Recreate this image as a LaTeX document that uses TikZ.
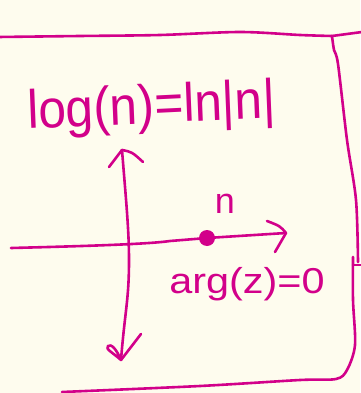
\documentclass[tikz,border=0pt]{standalone}
\usepackage{fontspec}
\setmainfont{Liberation Sans}
\definecolor{skpink}{RGB}{210,0,138}
\definecolor{skpaper}{RGB}{254,252,238}
\usetikzlibrary{calc}

\begin{document}
\begin{tikzpicture}[x=1pt,y=-1pt,
  ink/.style={draw=skpink,line width=2.6pt,line cap=round,line join=round},
  hand/.style={text=skpink,inner sep=0pt}
]
  \fill[skpaper] (0,0) rectangle (360,393);
  \useasboundingbox (0,0) rectangle (360,393);

  % Frame
  \draw[ink] plot[smooth] coordinates {(-2,37) (80,36) (160,35) (240,32) (300,35) (332,36)};
  \draw[ink] (332,36) -- (362,32);
  \draw[ink] plot[smooth] coordinates {(332,36) (334,50) (338,64) (347,140) (356,200) (358,262)};
  \draw[ink] (353,265) -- (362,265);
  \draw[ink] plot[smooth] coordinates {(353,257) (353,300) (355,345) (347,370) (336,379)
    (300,380) (200,386) (62,392)};

  % Axes
  \coordinate (hl) at (11,248);
  \coordinate (ht) at (286,233);
  \coordinate (vt) at (122,150);
  \coordinate (vb) at (121,360);
  \node[circle,fill=skpink,minimum size=16pt,inner sep=0pt] (dot) at (207,238) {};

  \draw[ink] (hl) .. controls (90,246) and (150,244) .. (170,241) -- (dot.center) -- (ht);
  \draw[ink] (ht) .. controls (280,226) .. (267,221);
  \draw[ink] (ht) -- (275,252);

  \draw[ink] (vt) .. controls (126,200) and (129,230) .. (129,260)
    .. controls (129,300) and (125,310) .. (vb);
  \draw[ink] (vt) -- (109,167);
  \draw[ink] (vt) .. controls (132,152) .. (143,162);
  \draw[ink] (vb) -- (141,334);
  \draw[ink] (vb) .. controls (112,352) and (105,349) .. (108,346)
    .. controls (111,343) and (117,350) .. (vb);

  % Labels
  \node[hand,font=\fontsize{54}{54}\selectfont,xscale=0.92,rotate=2.5,anchor=base west]
    (logeq) at (28,129) {log(n)=ln|n|};
  \node[hand,font=\fontsize{36}{36}\selectfont,anchor=base] (nlbl) at (225,213) {n};
  \node[hand,font=\fontsize{36}{36}\selectfont,xscale=1.15,anchor=base]
    (argeq) at (247,293) {arg(z)=0};
\end{tikzpicture}
\end{document}
